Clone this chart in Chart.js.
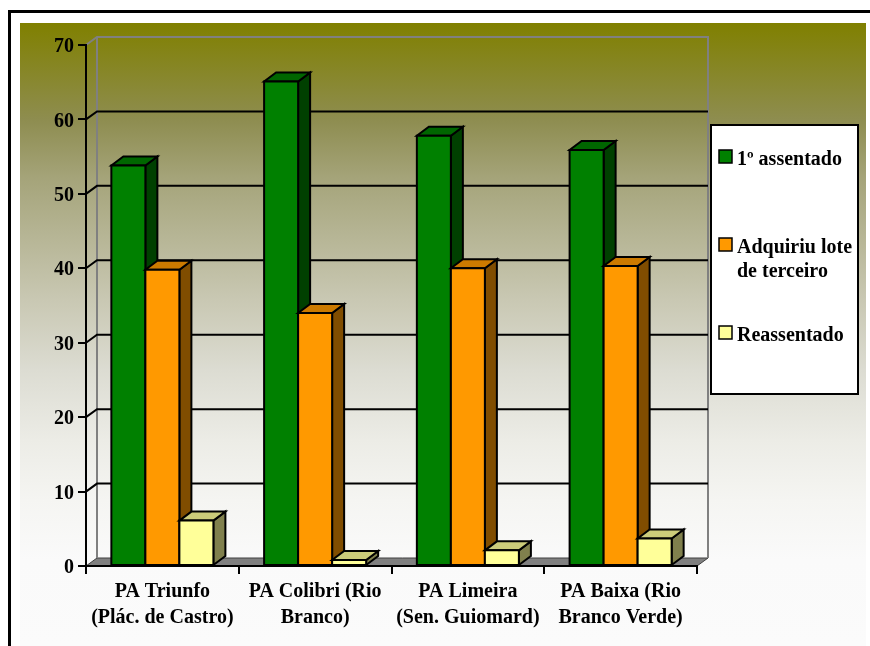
<!DOCTYPE html>
<html>
<head>
<meta charset="utf-8">
<script src="https://cdn.jsdelivr.net/npm/chart.js@4.4.1/dist/chart.umd.min.js"></script>
<style>
  body { margin: 0; background: #fff; }
  #wrap { width: 870px; height: 646px; }
</style>
</head>
<body>
<div id="wrap"><canvas id="chart"></canvas></div>
<script>
// --- Data ---
const categories = [
    ['PA Triunfo', '(Plác. de Castro)'],
    ['PA Colibri (Rio', 'Branco)'],
    ['PA Limeira', '(Sen. Guiomard)'],
    ['PA Baixa (Rio', 'Branco Verde)']
];
const seriesNames = ['1º assentado', 'Adquiriu lote de terceiro', 'Reassentado'];
const primeiroAssentado = [53.8, 65.1, 57.8, 55.9];
const adquiriuLote = [39.8, 34.0, 40.0, 40.3];
const reassentado = [6.1, 0.8, 2.1, 3.7];
const yTicks = [0, 10, 20, 30, 40, 50, 60, 70];

// --- Styling ---
const FONT = '"Liberation Serif", "Times New Roman", serif';
const faceColors = [
    { front: '#008000', top: '#006600', side: '#004000' },
    { front: '#FF9900', top: '#CC7A00', side: '#804D00' },
    { front: '#FFFF99', top: '#CCCC7A', side: '#80804D' }
];
const WALL_DX = 11, WALL_DY = 8;
const BAR_DX = 12, BAR_DY = 9;

// fill + outline a polygon
function face(ctx, pts, color) {
    ctx.beginPath();
    ctx.moveTo(pts[0][0], pts[0][1]);
    for (let k = 1; k < pts.length; k++) ctx.lineTo(pts[k][0], pts[k][1]);
    ctx.closePath();
    ctx.fillStyle = color;
    ctx.fill();
    ctx.stroke();
}

// --- Background, walls, floor, gridlines ---
const backdrop = {
    id: 'backdrop',
    beforeDraw(chart) {
        const ctx = chart.ctx;
        const { left, right, top, bottom } = chart.chartArea;
        const yScale = chart.scales.y;
        ctx.save();
        ctx.fillStyle = '#fff';
        ctx.fillRect(0, 0, chart.width, chart.height);

        // outer frame
        ctx.fillStyle = '#000';
        ctx.fillRect(8, 10, chart.width - 8, 3);
        ctx.fillRect(8, 10, 3, chart.height - 10);

        // gradient fill
        const g = ctx.createLinearGradient(0, 23, 0, chart.height);
        g.addColorStop(0, '#808000');
        g.addColorStop(0.156, '#8e8d50');
        g.addColorStop(0.25, '#a5a47a');
        g.addColorStop(0.445, '#c9c8b3');
        g.addColorStop(0.557, '#dcdcd2');
        g.addColorStop(0.67, '#ececE6');
        g.addColorStop(0.766, '#f5f5f2');
        g.addColorStop(0.862, '#fafafa');
        g.addColorStop(1, '#fbfbfb');
        ctx.fillStyle = g;
        ctx.fillRect(20, 23, 846, chart.height - 23);

        // floor
        ctx.strokeStyle = '#404040';
        ctx.lineWidth = 1;
        face(ctx, [[left, bottom], [right, bottom], [right + WALL_DX, bottom - WALL_DY], [left + WALL_DX, bottom - WALL_DY]], '#808080');

        // back wall outline
        ctx.strokeStyle = '#808080';
        ctx.lineWidth = 2;
        ctx.beginPath();
        ctx.moveTo(left, top);
        ctx.lineTo(left + WALL_DX, top - WALL_DY);
        ctx.lineTo(right + WALL_DX, top - WALL_DY);
        ctx.lineTo(right + WALL_DX, bottom - WALL_DY);
        ctx.moveTo(left + WALL_DX, top - WALL_DY);
        ctx.lineTo(left + WALL_DX, bottom - WALL_DY);
        ctx.stroke();

        // gridlines on side + back wall
        ctx.strokeStyle = '#000';
        yScale.ticks.forEach(t => {
            if (t.value <= yScale.min || t.value >= yScale.max) return;
            const y = yScale.getPixelForValue(t.value);
            ctx.beginPath();
            ctx.moveTo(left, y);
            ctx.lineTo(left + WALL_DX, y - WALL_DY);
            ctx.lineTo(right + WALL_DX, y - WALL_DY);
            ctx.stroke();
        });
        ctx.restore();
    }
};

// --- 3D bars, painted left to right so each face overlaps correctly ---
const bars3d = {
    id: 'bars3d',
    afterDatasetsDraw(chart) {
        const ctx = chart.ctx;
        ctx.save();
        ctx.lineWidth = 2;
        ctx.strokeStyle = '#000';
        chart.data.labels.forEach((_, j) => {
            chart.data.datasets.forEach((ds, i) => {
                const bar = chart.getDatasetMeta(i).data[j];
                const { x, y, base, width } = bar.getProps(['x', 'y', 'base', 'width'], true);
                const l = x - width / 2, r = x + width / 2;
                const c = faceColors[i];
                face(ctx, [[r, base], [r + BAR_DX, base - BAR_DY], [r + BAR_DX, y - BAR_DY], [r, y]], c.side);
                face(ctx, [[l, y], [r, y], [r + BAR_DX, y - BAR_DY], [l + BAR_DX, y - BAR_DY]], c.top);
                face(ctx, [[l, base], [r, base], [r, y], [l, y]], c.front);
            });
        });
        ctx.restore();
    }
};

// --- Boxed legend on the right ---
function wrapText(ctx, text, maxWidth) {
    const words = text.split(' ');
    const lines = [];
    let line = '';
    words.forEach(w => {
        const test = line ? line + ' ' + w : w;
        if (line && ctx.measureText(test).width > maxWidth) {
            lines.push(line);
            line = w;
        } else {
            line = test;
        }
    });
    lines.push(line);
    return lines;
}

const boxLegend = {
    id: 'boxLegend',
    afterDraw(chart) {
        const ctx = chart.ctx;
        const bx = 711, by = 125, bw = 147, bh = 269;
        ctx.save();
        ctx.fillStyle = '#fff';
        ctx.fillRect(bx, by, bw, bh);
        ctx.strokeStyle = '#000';
        ctx.lineWidth = 2;
        ctx.strokeRect(bx, by, bw, bh);
        ctx.font = 'bold 20px ' + FONT;
        ctx.textBaseline = 'alphabetic';
        ctx.textAlign = 'left';
        chart.data.datasets.forEach((ds, i) => {
            const baseY = by + 40 + i * 88;
            ctx.fillStyle = ds.backgroundColor;
            ctx.fillRect(bx + 8, baseY - 15, 13, 13);
            ctx.lineWidth = 1.5;
            ctx.strokeRect(bx + 8, baseY - 15, 13, 13);
            ctx.fillStyle = '#000';
            wrapText(ctx, ds.label, 121).forEach((ln, k) => {
                ctx.fillText(ln, bx + 26, baseY + k * 24);
            });
        });
        ctx.restore();
    }
};

const seriesData = [primeiroAssentado, adquiriuLote, reassentado];

new Chart(document.getElementById('chart'), {
    type: 'bar',
    data: {
        labels: categories,
        datasets: seriesNames.map((name, i) => ({
            label: name,
            data: seriesData[i],
            backgroundColor: faceColors[i].front,
            borderColor: '#000',
            borderWidth: 2,
            categoryPercentage: 0.668,
            barPercentage: 1
        }))
    },
    options: {
        responsive: true,
        maintainAspectRatio: false,
        animation: false,
        layout: { padding: { left: 20, top: 45, right: 173, bottom: 0 } },
        plugins: {
            legend: { display: false },
            tooltip: { enabled: false }
        },
        scales: {
            x: {
                afterFit: s => { s.height = 80; },
                grid: { drawOnChartArea: false, color: '#000', lineWidth: 2, tickLength: 8 },
                border: { display: true, color: '#000', width: 2 },
                ticks: {
                    color: '#000',
                    padding: 5,
                    maxRotation: 0,
                    autoSkip: false,
                    font: { family: FONT, size: 20, weight: 'bold', lineHeight: 1.3 }
                }
            },
            y: {
                min: 0,
                max: 70,
                afterFit: s => { s.width = 66; },
                afterBuildTicks: s => { s.ticks = yTicks.map(v => ({ value: v })); },
                grid: { drawOnChartArea: false, color: '#000', lineWidth: 2, tickLength: 8 },
                border: { display: true, color: '#000', width: 2 },
                ticks: {
                    color: '#000',
                    padding: 4,
                    labelOffset: 2,
                    font: { family: FONT, size: 20, weight: 'bold' }
                }
            }
        }
    },
    plugins: [backdrop, bars3d, boxLegend]
});
</script>
</body>
</html>
